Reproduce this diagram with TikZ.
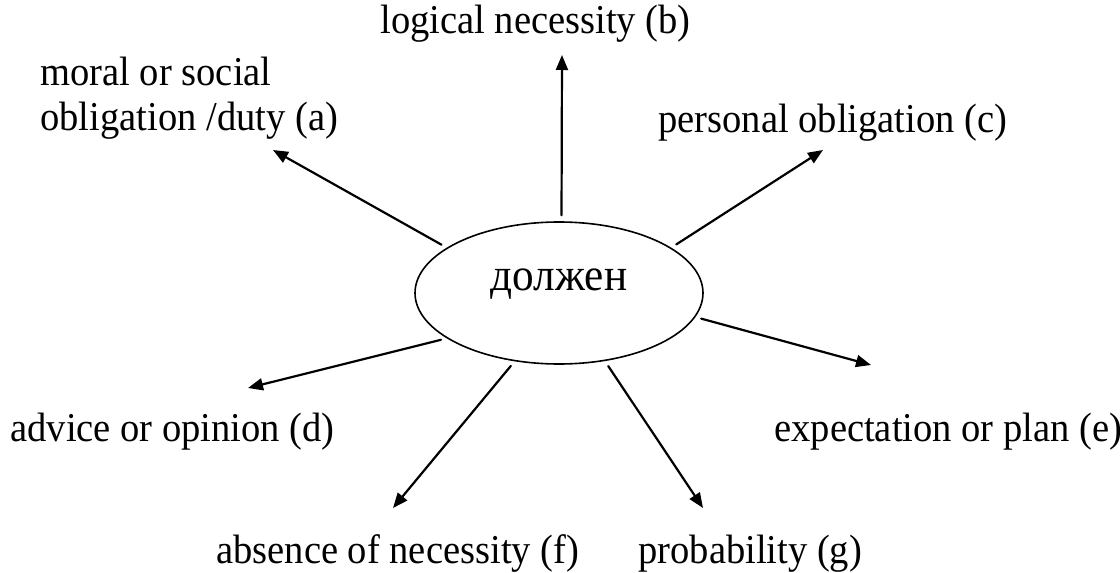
\documentclass[tikz,border=0pt]{standalone}
\usepackage{fontspec}
\setmainfont{Liberation Serif}[FakeStretch=0.94]
\usetikzlibrary{arrows.meta,shapes.geometric}

\begin{document}
\begin{tikzpicture}[x=0.5pt, y=-0.5pt, line cap=round, line join=round,
    sense/.style={font=\fontsize{20.5}{22.5}\selectfont, inner sep=0pt, anchor=base west, align=left},
    ray/.style={line width=1.1pt, shorten <=3pt, -{Triangle[length=7.5pt, width=6pt]}}]

  \useasboundingbox (0,0) rectangle (1120,573);

  % --- ELIPSA CENTRALA ---
  \node[draw, ellipse, line width=0.8pt, minimum width=144pt, minimum height=71pt, inner sep=0pt,
        font=\fontsize{23}{23}\selectfont, text height=7pt, text depth=10pt] (modal) at (559,293) {должен};

  % --- ETICHETE ---
  \node[sense] (sensea) at (40,130)  {moral or social\\obligation /duty (a)};
  \node[sense] (senseb) at (380,33)  {logical necessity (b)};
  \node[sense] (sensec) at (658,132) {personal obligation (c)};
  \node[sense] (sensed) at (10,441)  {advice or opinion (d)};
  \node[sense] (sensee) at (774,441) {expectation or plan (e)};
  \node[sense] (sensef) at (216,563) {absence of necessity (f)};
  \node[sense] (senseg) at (638,563) {probability (g)};

  % --- VARFURI SAGETI ---
  \coordinate (tipa) at (273,150);
  \coordinate (tipb) at (562,55);
  \coordinate (tipc) at (823,150);
  \coordinate (tipd) at (248,388);
  \coordinate (tipe) at (871,365);
  \coordinate (tipf) at (393,508);
  \coordinate (tipg) at (703,508);

  % --- SAGETI ---
  \foreach \ang/\tip in {158/tipa, 88/tipb, 22/tipc, 202/tipd, 350/tipe, 237/tipf, 304/tipg}
    \draw[ray] (modal.\ang) -- (\tip);

\end{tikzpicture}
\end{document}
